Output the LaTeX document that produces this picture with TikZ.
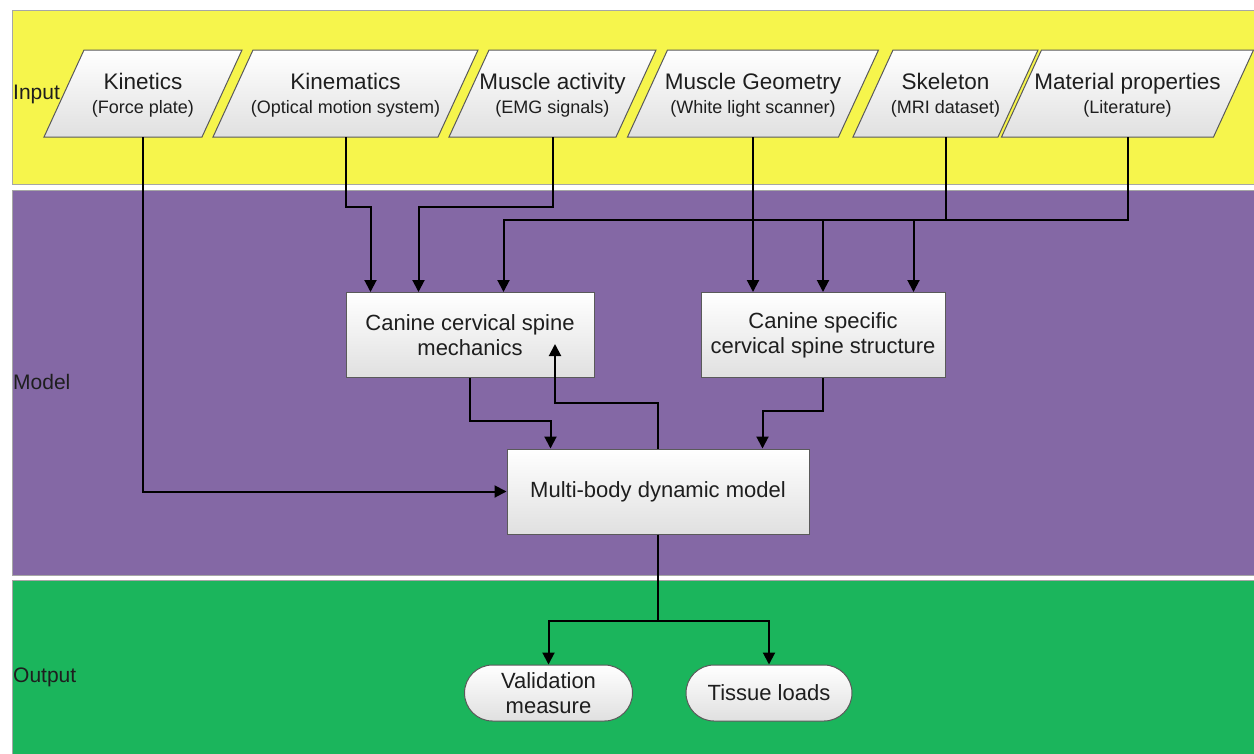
\documentclass[tikz,border=0pt]{standalone}
\usepackage{fontspec}
\setmainfont{Liberation Sans}
\usetikzlibrary{arrows.meta,calc,shapes.misc}
\definecolor{bandY}{HTML}{F6F54C}
\definecolor{bandP}{HTML}{8468A5}
\definecolor{bandG}{HTML}{1BB55C}
\definecolor{edge}{HTML}{5A5A5A}
\definecolor{boxbot}{HTML}{E0E0E0}
\definecolor{ink}{HTML}{1E1E1E}
\newcommand\insub[1]{{\fontsize{18}{20}\selectfont #1}}
\newcommand\inpara[5]{%
  \path[boxshade] (#2-#3-20,137) -- (#2+#3-20,137) -- (#2+#3+20,50) -- (#2-#3+20,50) -- cycle;
  \node[intext] (#1) at (#2,95) {#4\\\insub{#5}};}
\begin{document}
\begin{tikzpicture}[x=1pt,y=-1pt,
  band/.style={draw=gray!70,line width=0.8pt},
  boxshade/.style={top color=white,bottom color=boxbot,draw=edge,line width=1pt},
  procbox/.style={boxshade,rectangle,minimum height=85pt,inner sep=0pt,align=center,text=ink,font=\fontsize{22}{25}\selectfont},
  outbox/.style={boxshade,rounded rectangle,minimum height=56pt,inner sep=0pt,align=center,text=ink,font=\fontsize{22}{25}\selectfont},
  intext/.style={inner sep=0pt,minimum height=84pt,align=center,text=ink,font=\fontsize{22.5}{24.5}\selectfont},
  lanelabel/.style={anchor=west,inner sep=0pt,text=ink,font=\fontsize{21}{24}\selectfont},
  conn/.style={draw=black,line width=2pt,-{Triangle[width=12pt,length=12pt]}},
  wire/.style={draw=black,line width=2pt}]
\useasboundingbox (0,0) rectangle (1254,753);
\fill[white] (0,0) rectangle (1254,753);
% lanes
\path[band,fill=bandY] (12,10) rectangle (1260,184);
\path[band,fill=bandP] (12,190) rectangle (1260,575);
\path[band,fill=bandG] (12,580) rectangle (1260,760);
\node[lanelabel] (lin) at (13,94) {Input};
\node[lanelabel] (lmod) at (13,382) {Model};
\node[lanelabel] (lout) at (13,677) {Output};
% inputs
\inpara{kin}{143}{79}{Kinetics}{(Force plate)}
\inpara{kinem}{345.5}{112.5}{Kinematics}{(Optical motion system)}
\inpara{musc}{552.5}{83.5}{Muscle activity}{(EMG signals)}
\inpara{mgeo}{753}{105.5}{Muscle Geometry}{(White light scanner)}
\inpara{skel}{945.5}{72.5}{Skeleton}{(MRI dataset)}
\inpara{mat}{1127.5}{106}{Material properties}{(Literature)}
% model boxes
\node[procbox,minimum width=248pt] (mech) at (470,335) {Canine cervical spine\\mechanics};
\node[procbox,minimum width=244pt] (struct) at (823,335) {Canine specific\\cervical spine structure};
\node[procbox,minimum width=302pt] (mbd) at (658,491.5) {Multi-body dynamic model};
% outputs
\node[outbox,minimum width=168pt] (val) at (548.5,693) {Validation\\measure};
\node[outbox,minimum width=166pt] (tis) at (769,693) {Tissue loads};
% connectors
\draw[conn] (kin.south) |- (mbd.west);
\draw[conn] (kinem.south) -- ++(0,70) -| ($(mech.north west)+(25,0)$);
\draw[conn] (musc.south) -- ++(0,70) -| ($(mech.north west)+(73,0)$);
\coordinate (bus) at ($(mat.south)+(0,83)$);
\draw[conn] (mat.south) -- (bus) -| ($(mech.north west)+(158,0)$);
\draw[wire] (skel.south) -- (skel.south |- bus);
\draw[conn] (mgeo.south) -- (mgeo.south |- struct.north);
\coordinate (s2) at ($(struct.north east)+(-32,0)$);
\draw[conn] (struct.north |- bus) -- (struct.north);
\draw[conn] (s2 |- bus) -- (s2);
\draw[conn] (mech.south) -- ++(0,43) -| ($(mbd.north west)+(44,0)$);
\draw[conn] (struct.south) -- ++(0,33) -| ($(mbd.north east)+(-47,0)$);
\draw[conn] (mbd.north) -- ++(0,-46) -| ($(mech.south)+(85,-34)$);
\draw[conn] (mbd.south) -- ++(0,86) -| (val.north);
\draw[conn] (mbd.south) -- ++(0,86) -| (tis.north);
\end{tikzpicture}
\end{document}
